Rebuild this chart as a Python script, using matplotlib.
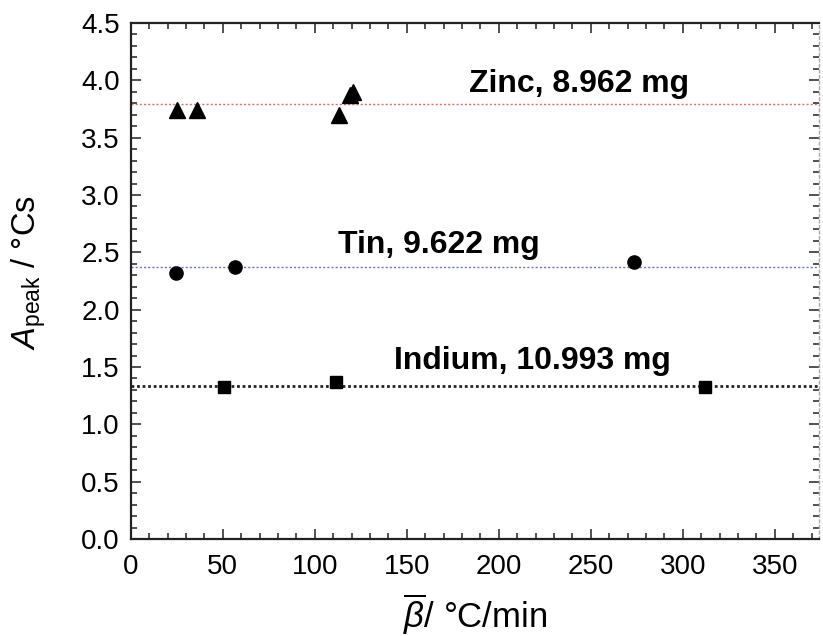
import matplotlib
matplotlib.use("Agg")
import matplotlib.pyplot as plt
from matplotlib.ticker import MultipleLocator

plt.rcParams['font.family'] = ['Liberation Sans', 'DejaVu Sans']
plt.rcParams['mathtext.fontset'] = 'custom'
plt.rcParams['mathtext.rm'] = 'Liberation Sans'
plt.rcParams['mathtext.it'] = 'Liberation Sans:italic'

# data
zinc_x = [25, 36, 113, 119, 121]
zinc_y = [3.74, 3.745, 3.70, 3.87, 3.90]
tin_x = [24.5, 56.8, 273.5]
tin_y = [2.32, 2.37, 2.42]
indium_x = [50.9, 111.5, 311.9]
indium_y = [1.33, 1.37, 1.33]

# mean lines
zinc_mean = 3.79
tin_mean = 2.37
indium_mean = 1.335

labels = ["Zinc, 8.962 mg", "Tin, 9.622 mg", "Indium, 10.993 mg"]

fig = plt.figure(figsize=(8.23, 6.36), dpi=100)
ax = fig.add_axes([0.159, 0.1525, 0.836, 0.8113])

ax.axhline(zinc_mean, color='#e07070', ls=(0, (1.5, 1.5)), lw=1.0, zorder=1)
ax.axhline(tin_mean, color='#7070c8', ls=(0, (1.5, 1.5)), lw=1.0, zorder=1)
ax.axhline(indium_mean, color='#222222', ls=(0, (1, 1)), lw=2.0, zorder=1)

ax.plot(zinc_x, zinc_y, '^', color='black', ms=11, ls='none', zorder=3)
ax.plot(tin_x, tin_y, 'o', color='black', ms=9.5, ls='none', zorder=3)
ax.plot(indium_x, indium_y, 's', color='black', ms=8, ls='none', zorder=3)

ax.text(184, 3.965, labels[0], fontsize=23, fontweight='bold', va='center', ha='left')
ax.text(112.7, 2.56, labels[1], fontsize=23, fontweight='bold', va='center', ha='left')
ax.text(142.8, 1.55, labels[2], fontsize=23, fontweight='bold', va='center', ha='left')

ax.set_xlim(0, 374)
ax.set_ylim(0, 4.5)
ax.xaxis.set_major_locator(MultipleLocator(50))
ax.xaxis.set_minor_locator(MultipleLocator(10))
ax.yaxis.set_major_locator(MultipleLocator(0.5))
ax.yaxis.set_minor_locator(MultipleLocator(0.1))
ax.yaxis.set_major_formatter(matplotlib.ticker.FormatStrFormatter('%.1f'))

ax.tick_params(which='both', direction='in', top=True, right=True, labelsize=20, width=1.1, color='#222222')
ax.tick_params(which='major', length=7.2, pad=8)
ax.tick_params(axis='x', which='major', pad=11)
ax.tick_params(which='minor', length=4.3)
for s in ['left', 'bottom', 'top']:
    ax.spines[s].set_linewidth(1.6)
    ax.spines[s].set_color('#222222')
ax.spines['right'].set_color('#aaaaaa')
ax.spines['right'].set_linewidth(1.0)
ax.spines['right'].set_linestyle((0, (2, 2)))

ax.set_xlabel(r'$\overline{\beta}$/ °C/min', fontsize=25)
ax.set_ylabel(r'$A_{\mathrm{peak}}$ / °Cs', fontsize=23.5)
ax.xaxis.set_label_coords(0.5, -0.102)
ax.yaxis.set_label_coords(-0.12, 0.517)

fig.savefig('out.png', dpi=100)
